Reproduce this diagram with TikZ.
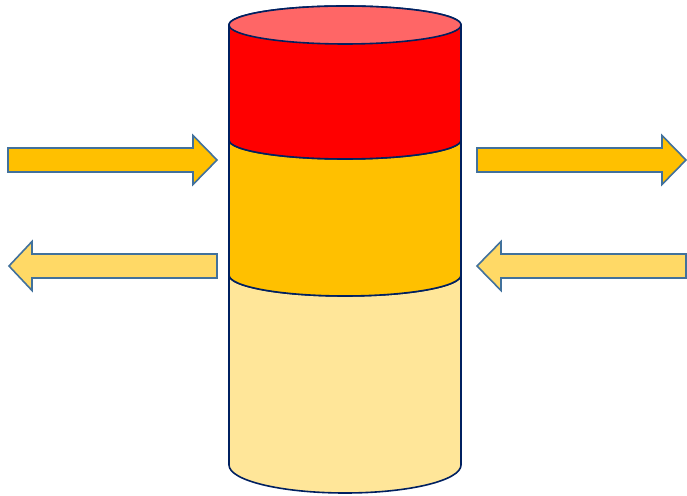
\documentclass[tikz,border=0pt]{standalone}
\definecolor{cylline}{HTML}{002060}
\definecolor{toplid}{HTML}{FF6666}
\definecolor{bandred}{HTML}{FF0000}
\definecolor{bandorange}{HTML}{FFC000}
\definecolor{bandpale}{HTML}{FFE699}
\definecolor{arrline}{HTML}{41719C}
\definecolor{arrpale}{HTML}{FFD966}
\tikzset{
  band/.style={draw=cylline, line width=1.6pt, line join=round},
  flowarrow/.style={draw=arrline, line width=1.6pt, line join=miter},
}
% right-pointing block arrow: #1 tail x, #2 head base x, #3 tip x, #4 centre y, #5 fill
\newcommand{\blockright}[5]{%
  \draw[flowarrow, fill=#5] (#1,#4+12) -- (#2,#4+12) -- (#2,#4+24.5) -- (#3,#4)
    -- (#2,#4-24.5) -- (#2,#4-12) -- (#1,#4-12) -- cycle;}
% left-pointing block arrow: #1 tip x, #2 head base x, #3 tail x, #4 centre y, #5 fill
\newcommand{\blockleft}[5]{%
  \draw[flowarrow, fill=#5] (#3,#4+12) -- (#2,#4+12) -- (#2,#4+24.5) -- (#1,#4)
    -- (#2,#4-24.5) -- (#2,#4-12) -- (#3,#4-12) -- cycle;}
\begin{document}
\begin{tikzpicture}[x=1pt, y=1pt]
\useasboundingbox (0,0) rectangle (687,495);

% lower, pale band
\path[band, fill=bandpale] (229,220) -- (229,30)
  arc[start angle=180, end angle=360, x radius=116, y radius=28]
  -- (461,220)
  arc[start angle=0, end angle=-180, x radius=116, y radius=21] -- cycle;
% middle, orange band
\path[band, fill=bandorange] (229,355) -- (229,220)
  arc[start angle=180, end angle=360, x radius=116, y radius=21]
  -- (461,355)
  arc[start angle=0, end angle=-180, x radius=116, y radius=19] -- cycle;
% upper, red band
\path[band, fill=bandred] (229,470) -- (229,355)
  arc[start angle=180, end angle=360, x radius=116, y radius=19]
  -- (461,470)
  arc[start angle=0, end angle=180, x radius=116, y radius=19] -- cycle;
% lid
\path[band, fill=toplid] (345,470) ellipse[x radius=116, y radius=19];

% arrows in and out
\blockright{8}{193}{217}{335}{bandorange}
\blockright{477}{662}{686}{335}{bandorange}
\blockleft{9}{32}{217}{229}{arrpale}
\blockleft{477}{501}{686}{229}{arrpale}
\end{tikzpicture}
\end{document}
